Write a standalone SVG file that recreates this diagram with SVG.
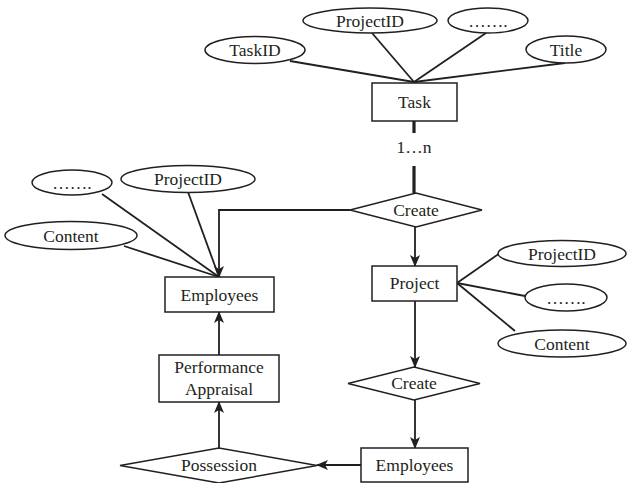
<svg xmlns="http://www.w3.org/2000/svg" width="628" height="483" viewBox="0 0 628 483">
<style>
  .shape { fill: #fff; stroke: #231f20; stroke-width: 1.5; }
  .line { fill: none; stroke: #231f20; stroke-width: 1.8; }
  .thick { fill: none; stroke: #231f20; stroke-width: 3.2; }
  text { font-family: "Liberation Serif", "Times New Roman", serif; font-size: 17.5px; fill: #231f20; text-anchor: middle; }
</style>
<defs>
  <marker id="arr" viewBox="0 0 12 10" refX="11" refY="5" markerWidth="12" markerHeight="10" markerUnits="userSpaceOnUse" orient="auto">
    <path d="M0,0 L12,5 L0,10 L3,5 z" fill="#231f20"/>
  </marker>
</defs>
<g id="connectors">
  <line class="line" x1="290" y1="61" x2="414" y2="82"/>
  <line class="line" x1="372" y1="33" x2="414" y2="82"/>
  <line class="line" x1="486" y1="33" x2="414" y2="82"/>
  <line class="line" x1="565" y1="63" x2="414" y2="82"/>
  <line class="thick" x1="414" y1="121" x2="414" y2="133"/>
  <line class="thick" x1="414" y1="166" x2="414" y2="193"/>
  <polyline class="line" points="350,210 219,210 219,277" marker-end="url(#arr)"/>
  <line class="line" x1="102" y1="194" x2="219" y2="277"/>
  <line class="line" x1="188" y1="192" x2="219" y2="277"/>
  <line class="line" x1="124" y1="246" x2="219" y2="277"/>
  <line class="line" x1="415" y1="227" x2="415" y2="266" marker-end="url(#arr)"/>
  <line class="line" x1="457" y1="283" x2="500" y2="253"/>
  <line class="line" x1="457" y1="283" x2="525" y2="296"/>
  <line class="line" x1="457" y1="283" x2="515" y2="331"/>
  <line class="line" x1="415" y1="301" x2="415" y2="367" marker-end="url(#arr)"/>
  <line class="line" x1="415" y1="400" x2="415" y2="448" marker-end="url(#arr)"/>
  <line class="line" x1="361" y1="465" x2="317" y2="465" marker-end="url(#arr)"/>
  <line class="line" x1="219" y1="448" x2="219" y2="402" marker-end="url(#arr)"/>
  <line class="line" x1="219" y1="355" x2="219" y2="312" marker-end="url(#arr)"/>
</g>
<g id="taskid"><ellipse class="shape" cx="255" cy="50" rx="50" ry="13.5"/><text x="255" y="56">TaskID</text></g>
<g id="projectid-top"><ellipse class="shape" cx="370" cy="20.5" rx="67" ry="12.5"/><text x="370" y="26.5">ProjectID</text></g>
<g id="dots-top"><ellipse class="shape" cx="488" cy="20.5" rx="40" ry="12.5"/><text x="488" y="26.5">…….</text></g>
<g id="title"><ellipse class="shape" cx="566" cy="49.5" rx="40" ry="13.5"/><text x="566" y="55.5">Title</text></g>
<g id="task"><rect class="shape" x="372" y="83" width="85" height="38"/><text x="414.5" y="108">Task</text></g>
<g id="card"><text x="414" y="153">1…n</text></g>
<g id="create1"><polygon class="shape" points="350,210 416,193 482,210 416,227"/><text x="416" y="216">Create</text></g>
<g id="dots-left"><ellipse class="shape" cx="72" cy="182.5" rx="40" ry="12.5"/><text x="72" y="188.5">…….</text></g>
<g id="projectid-left"><ellipse class="shape" cx="188" cy="179" rx="67" ry="13.5"/><text x="188" y="185">ProjectID</text></g>
<g id="content-left"><ellipse class="shape" cx="71" cy="235.5" rx="66" ry="14"/><text x="71" y="241.5">Content</text></g>
<g id="employees-top"><rect class="shape" x="165" y="277" width="109" height="35"/><text x="219.5" y="301">Employees</text></g>
<g id="project"><rect class="shape" x="372" y="266" width="85" height="35"/><text x="414.5" y="289">Project</text></g>
<g id="projectid-right"><ellipse class="shape" cx="562" cy="253.5" rx="64" ry="13"/><text x="562" y="259.5">ProjectID</text></g>
<g id="dots-right"><ellipse class="shape" cx="566" cy="297.5" rx="41" ry="13.5"/><text x="566" y="303.5">…….</text></g>
<g id="content-right"><ellipse class="shape" cx="562" cy="343.5" rx="64" ry="13.5"/><text x="562" y="349.5">Content</text></g>
<g id="create2"><polygon class="shape" points="348,383.5 414,367 480,383.5 414,400"/><text x="414" y="389">Create</text></g>
<g id="perf"><rect class="shape" x="159" y="355" width="120" height="47"/><text x="219" y="373">Performance</text><text x="219" y="395">Appraisal</text></g>
<g id="possession"><polygon class="shape" points="120,465.5 219,448 317,465.5 219,483"/><text x="219" y="471">Possession</text></g>
<g id="employees-bottom"><rect class="shape" x="361" y="448" width="107" height="34"/><text x="414.5" y="471">Employees</text></g>
</svg>
